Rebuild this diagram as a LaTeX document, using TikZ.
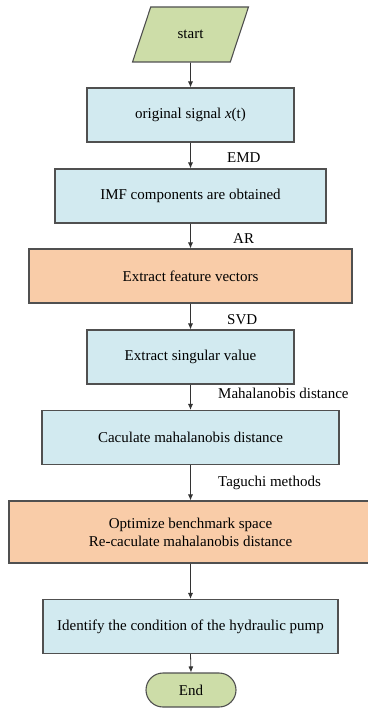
\documentclass[tikz,border=0pt]{standalone}
\usepackage{fontspec}
\setmainfont{Liberation Serif}
\usetikzlibrary{shapes.geometric, arrows.meta}

\definecolor{boxblue}{RGB}{210,234,240}
\definecolor{boxorange}{RGB}{249,204,168}
\definecolor{boxgreen}{RGB}{205,221,168}
\definecolor{edgegray}{RGB}{80,80,80}

\tikzset{
    box/.style={draw=edgegray, line width=1.1pt, fill=boxblue, minimum height=54pt, align=center},
    hot/.style={box, fill=boxorange},
    io/.style={draw=edgegray, line width=1.1pt, fill=boxgreen, trapezium, trapezium left angle=64,
        trapezium right angle=116, trapezium stretches=true, minimum width=116pt, minimum height=55pt},
    stop/.style={draw=edgegray, line width=1.1pt, fill=boxgreen, rounded corners=17pt,
        minimum width=90pt, minimum height=34pt},
    flow/.style={draw=black!80, line width=0.8pt, -{Latex[length=6pt, width=5pt]}},
    tag/.style={anchor=west, inner sep=0pt}
}

\begin{document}
\begin{tikzpicture}[x=1pt, y=-1pt, font=\fontsize{15}{18}\selectfont]
    \useasboundingbox (0,0) rectangle (367,708);

    % flow steps, top to bottom
    \node[io] (start) at (190.5,34.5) {start};
    \node[box, minimum width=207pt] (sig) at (190.5,115) {original signal \textit{x}(t)};
    \node[box, minimum width=271pt] (imf) at (190.5,196) {IMF components are obtained};
    \node[hot, minimum width=323pt] (feat) at (190.5,276) {Extract feature vectors};
    \node[box, minimum width=207pt] (sing) at (190.5,357) {Extract singular value};
    \node[box, minimum width=297pt] (maha) at (190.5,437.5) {Caculate mahalanobis distance};
    \node[hot, minimum width=363pt, minimum height=62pt] (opt) at (190.5,532)
        {Optimize benchmark space\\Re-caculate mahalanobis distance};
    \node[box, minimum width=295pt] (ident) at (190.5,626.5) {Identify the condition of the hydraulic pump};
    \node[stop] (end) at (191,690) {End};

    \foreach \a/\b in {start/sig, sig/imf, imf/feat, feat/sing, sing/maha, maha/opt, opt/ident, ident/end}
        \draw[flow] (\a.south) -- (\b.north);

    % method labels beside the arrows
    \foreach \n/\x/\y/\txt in {emd/227/158/EMD, ar/233/239/AR, svd/227/320/SVD,
        md/218/393/Mahalanobis distance, tg/218/483/Taguchi methods}
        \node[tag] (\n) at (\x,\y) {\txt};
\end{tikzpicture}
\end{document}
